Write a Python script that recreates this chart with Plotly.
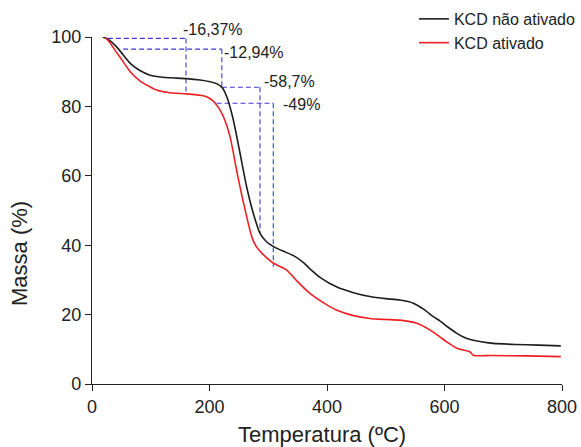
import plotly.graph_objects as go

# Thermogravimetric curves (temperature in °C, residual mass in %)
temp_nao_ativado = [18, 22, 30, 40, 50, 65, 80, 99, 120, 140, 161, 184, 201, 213, 222, 230, 240,
                    252, 263, 274.5, 286, 297, 309, 325, 343, 360, 371, 390, 416, 445, 473, 500,
                    524, 547, 565, 581, 592, 605, 621, 635, 649, 665, 683, 720, 760, 798]
massa_nao_ativado = [100, 99.8, 99, 97.5, 95.5, 92.4, 90.5, 89.0, 88.4, 88.2, 88.0, 87.6, 87.1, 86.5,
                     85.3, 82.5, 76.5, 66.5, 57, 49.2, 43.4, 41, 39.6, 38.3, 37, 35, 33.2, 30.5, 28.0,
                     26.3, 25.2, 24.6, 24.2, 23.3, 21.5, 19.4, 18.2, 16.5, 14.6, 13.3, 12.6, 12.1,
                     11.7, 11.4, 11.2, 11.0]

temp_ativado = [22, 30, 40, 53, 65, 82, 95, 110, 130, 161, 184, 195, 206, 216, 225, 235, 246, 258,
                272, 280, 289, 309, 331, 337, 350, 371, 395, 416, 445, 473, 500, 524, 553, 575, 592,
                605, 621, 643, 649, 680, 740, 798]
massa_ativado = [100, 98.5, 96, 92.9, 90, 87.3, 86, 84.7, 84.0, 83.6, 83.2, 82.8, 81.6, 79.5, 76.5,
                 71.3, 61.7, 52.1, 42.4, 39.5, 37.7, 34.8, 32.9, 31.9, 29.5, 26.1, 23.3, 21.3, 19.7,
                 18.9, 18.6, 18.4, 17.5, 15.6, 13.6, 12, 10.3, 9.3, 8.3, 8.2, 8.1, 7.9]

# Mass-loss guide segments: (x0, x1, y0, y1)
guias = [
    (27, 160, 99.6, 99.6), (160, 160, 99.6, 83.6),
    (53, 221, 96.5, 96.5), (221, 221, 96.5, 85.5),
    (221, 286, 85.5, 85.5), (286, 286, 85.5, 43.4),
    (212, 308.6, 80.9, 80.9), (308.6, 308.6, 80.9, 33.8),
]

# Mass-loss labels: (text, temperature, mass)
rotulos = [
    ("-16,37%", 152, 102.2),
    ("-12,94%", 220.5, 95.5),
    ("-58,7%", 290, 87.3),
    ("-49%", 322.5, 80.6),
]

x_ticks = [0, 200, 400, 600, 800]
y_ticks = [0, 20, 40, 60, 80, 100]
y_range = [0, 100]

fonte = "Liberation Sans, Arial, sans-serif"

fig = go.Figure()

for x0, x1, y0, y1 in guias:
    fig.add_trace(go.Scatter(
        x=[x0, x1], y=[y0, y1], mode="lines", showlegend=False, hoverinfo="skip",
        line=dict(color="#3a3ad8", width=1.1, dash="5px,3px"),
    ))

fig.add_trace(go.Scatter(
    x=temp_nao_ativado, y=massa_nao_ativado, mode="lines", name="KCD não ativado",
    line=dict(color="#1e1e1e", width=1.6, shape="spline", smoothing=0.6),
))
fig.add_trace(go.Scatter(
    x=temp_ativado, y=massa_ativado, mode="lines", name="KCD ativado",
    line=dict(color="#ec2024", width=1.6, shape="spline", smoothing=0.6),
))

# Labels are placed in paper units vertically so the one above 100 % stays visible
for texto, x, y in rotulos:
    fig.add_annotation(
        x=x, y=(y - y_range[0]) / (y_range[1] - y_range[0]), xref="x", yref="paper",
        text=texto, showarrow=False, xanchor="left", yanchor="middle",
        font=dict(family=fonte, size=16, color="#222222"),
    )

# Axis titles
fig.add_annotation(
    x=0.49, y=-0.145, xref="paper", yref="paper", text="Temperatura (ºC)", showarrow=False,
    xanchor="center", yanchor="middle", font=dict(family=fonte, size=22, color="#222222"),
)
fig.add_annotation(
    x=-0.153, y=0.375, xref="paper", yref="paper", text="Massa (%)", showarrow=False,
    textangle=-90, xanchor="center", yanchor="middle",
    font=dict(family=fonte, size=22, color="#222222"),
)

fig.update_layout(
    width=581, height=447,
    margin=dict(l=92, r=19, t=37, b=63, autoexpand=False),
    paper_bgcolor="white", plot_bgcolor="white",
    font=dict(family=fonte, size=18, color="#222222"),
    legend=dict(
        x=0.685, y=1.101, xanchor="left", yanchor="top",
        bgcolor="rgba(0,0,0,0)", font=dict(family=fonte, size=16, color="#222222"),
        tracegroupgap=0, itemwidth=30,
    ),
    xaxis=dict(
        range=[0, 800], tickvals=x_ticks, ticktext=[str(v) for v in x_ticks],
        showgrid=False, zeroline=False, showline=True, linecolor="#222222", linewidth=1.3,
        ticks="outside", ticklen=6, tickwidth=1.3, tickcolor="#222222",
        tickfont=dict(size=18),
    ),
    yaxis=dict(
        range=y_range, tickvals=y_ticks, ticktext=[str(v) for v in y_ticks],
        showgrid=False, zeroline=False, showline=True, linecolor="#222222", linewidth=1.3,
        ticks="outside", ticklen=6, tickwidth=1.3, tickcolor="#222222",
        tickfont=dict(size=18),
    ),
)

fig.write_html("out.html")
